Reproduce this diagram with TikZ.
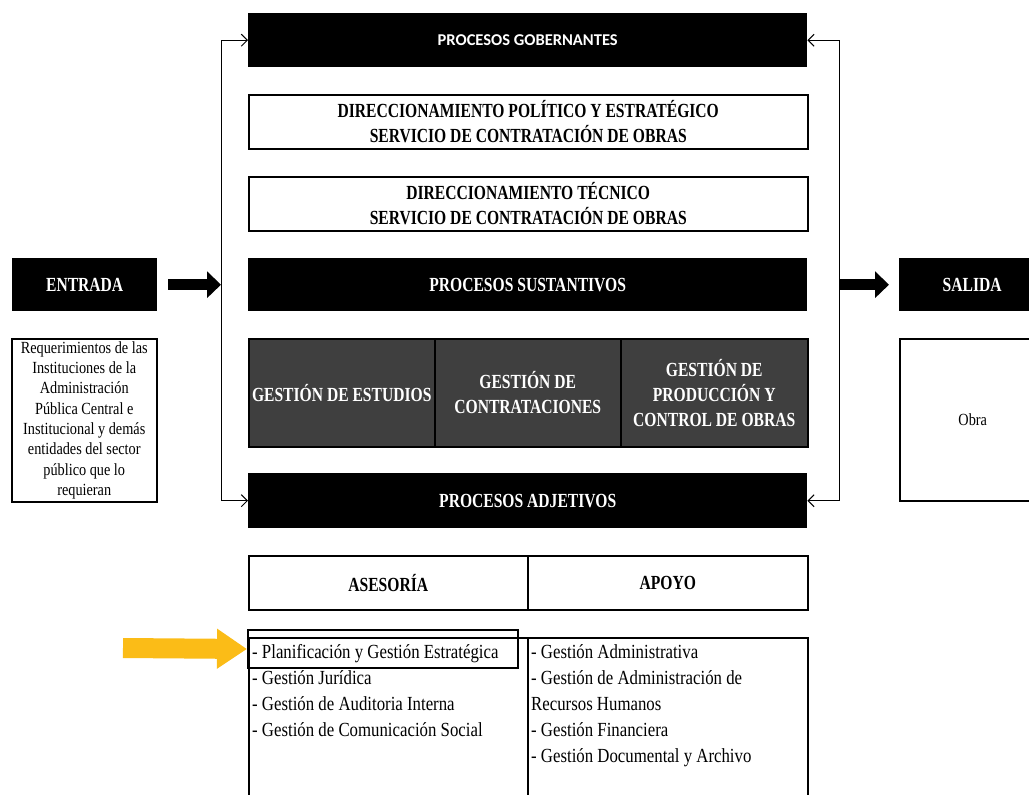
\documentclass[tikz,border=0pt]{standalone}
\usepackage{fontspec}
\setmainfont{Liberation Serif}
\newfontfamily\hb[FakeStretch=0.78]{Liberation Serif}
\newfontfamily\rg[FakeStretch=0.84]{Liberation Serif}
\newfontfamily\cb{Carlito}
\usetikzlibrary{arrows.meta}
\definecolor{ygold}{HTML}{FBBC17}
\definecolor{dgray}{HTML}{3F3F3F}
\tikzset{
  base/.style={anchor=north west, inner sep=0pt, align=center},
  bbox/.style={base, fill=black, text=white, minimum width=559pt,
    font=\hb\bfseries\fontsize{20}{25}\selectfont},
  wbox/.style={base, draw=black, line width=1.5pt, fill=white,
    font=\hb\bfseries\fontsize{20}{25}\selectfont},
  gbox/.style={base, draw=black, line width=1.5pt, fill=dgray, text=white,
    minimum height=108pt, font=\hb\bfseries\fontsize{20}{25}\selectfont},
  lbox/.style={base, draw=black, line width=1.5pt},
  ltext/.style={anchor=north west, inner sep=0pt, align=left,
    font=\rg\fontsize{20}{26}\selectfont},
  fb/.style={line width=1pt, -{Straight Barb[length=6pt,width=12pt,line width=1pt]}},
  fat/.style={line width=11pt, -{Triangle[length=14pt,width=26pt]}},
  yarrow/.style={ygold, line width=20pt, -{Triangle[length=30pt,width=38pt]}},
}
\begin{document}
\begin{tikzpicture}[x=1pt,y=-1pt]
\useasboundingbox (0,0) rectangle (1029,795);
\clip (0,0) rectangle (1029,795);
% central column
\node[bbox, minimum height=54pt, font=\cb\bfseries\fontsize{16.5}{20}\selectfont] (gob) at (248,13) {PROCESOS GOBERNANTES};
\node[wbox, minimum width=559pt, minimum height=54pt] (dps) at (248,94) {DIRECCIONAMIENTO POLÍTICO Y ESTRATÉGICO\\SERVICIO DE CONTRATACIÓN DE OBRAS};
\node[wbox, minimum width=559pt, minimum height=54pt] (dts) at (248,176) {DIRECCIONAMIENTO TÉCNICO\\SERVICIO DE CONTRATACIÓN DE OBRAS};
\node[bbox, minimum height=53pt] (sus) at (248,258) {PROCESOS SUSTANTIVOS};
\node[gbox, minimum width=186pt] (ge) at (248,338) {GESTIÓN DE ESTUDIOS};
\node[gbox, minimum width=186pt] (gc) at (434,338) {GESTIÓN DE\\CONTRATACIONES};
\node[gbox, minimum width=187pt] (gp) at (620,338) {GESTIÓN DE\\PRODUCCIÓN Y\\CONTROL DE OBRAS};
\node[bbox, minimum height=55pt] (adj) at (248,473) {PROCESOS ADJETIVOS};
\node[wbox, minimum width=279pt, minimum height=54pt] (ase) at (248,555) {ASESORÍA};
\node[wbox, minimum width=280pt, minimum height=54pt] (apo) at (527,555) {APOYO};
\node[lbox, minimum width=279pt, minimum height=200pt] (la) at (248,637) {};
\node[lbox, minimum width=280pt, minimum height=200pt] (lb) at (527,637) {};
\node[ltext] (lat) at (252,644) {- Planificación y Gestión Estratégica\\- Gestión Jurídica\\- Gestión de Auditoria Interna\\- Gestión de Comunicación Social};
\node[ltext] (lbt) at (531,644) {- Gestión Administrativa\\- Gestión de Administración de\\Recursos Humanos\\- Gestión Financiera\\- Gestión Documental y Archivo};
\node[draw=black, line width=2pt, anchor=north west, inner sep=0pt, minimum width=270pt, minimum height=38pt] (hl) at (247,629) {};
% left side
\node[base, fill=black, text=white, minimum width=145pt, minimum height=53pt, font=\hb\bfseries\fontsize{20}{25}\selectfont] (ent) at (12,258) {ENTRADA};
\node[lbox, minimum width=145pt, minimum height=163pt, font=\rg\fontsize{17}{20.3}\selectfont] (req) at (11,338) {Requerimientos de las\\Instituciones de la\\Administración\\Pública Central e\\Institucional y demás\\entidades del sector\\público que lo\\requieran};
% right side
\node[base, fill=black, text=white, minimum width=146pt, minimum height=53pt, font=\hb\bfseries\fontsize{20}{25}\selectfont] (sal) at (899,258) {SALIDA};
\node[lbox, minimum width=146pt, minimum height=162pt, font=\rg\fontsize{17}{20}\selectfont] (obr) at (899,338) {Obra};
% feedback lines
\coordinate (L) at (221,284);
\coordinate (R) at (839,284);
\draw[fb] (L) |- (gob.west);
\draw[fb] (L) |- (adj.west);
\draw[fb] (R) |- (gob.east);
\draw[fb] (R) |- (adj.east);
\draw[fat] ([xshift=11pt]ent.east) -- (ent.east -| L);
\draw[fat] (sal.west -| R) -- ([xshift=-10pt]sal.west);
% yellow pointer
\coordinate (ys) at (123,648);
\draw[yarrow] (ys) -- (hl.west);
\end{tikzpicture}
\end{document}
